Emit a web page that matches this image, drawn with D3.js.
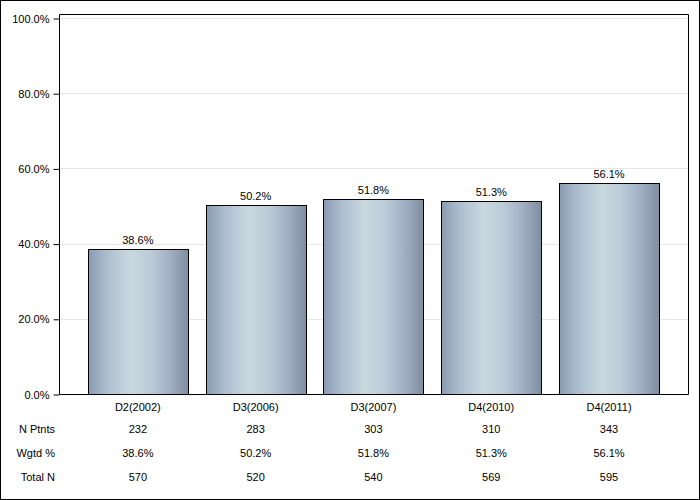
<!DOCTYPE html>
<html><head><meta charset="utf-8">
<script src="https://cdn.jsdelivr.net/npm/d3@7"></script>
<style>body{margin:0;background:#fff}svg{display:block}text{font-family:"Liberation Sans",Arial,sans-serif;font-size:11px;fill:#000}</style>
</head><body>
<script>
const categories = ["D2(2002)","D3(2006)","D3(2007)","D4(2010)","D4(2011)"];
const values = [38.6,50.2,51.8,51.3,56.1];
const nPtnts = [232,283,303,310,343];
const wgtd = ["38.6%","50.2%","51.8%","51.3%","56.1%"];
const totalN = [570,520,540,569,595];
const yTicks = [0,20,40,60,80,100];
const rowLabels = ["N Ptnts","Wgtd %","Total N"];

const W=700,H=500;
const L=59,R=688,T=14,B=394;
const svg=d3.select("body").append("svg").attr("width",W).attr("height",H);
svg.append("rect").attr("x",0.5).attr("y",0.5).attr("width",W-1).attr("height",H-1).attr("fill","#fff").attr("stroke","#000");

const defs=svg.append("defs");
const g=defs.append("linearGradient").attr("id","bg").attr("x1","0").attr("x2","1").attr("y1","0").attr("y2","0");
[["0%","#8a9bb0"],["18%","#adbdd0"],["42%","#c8d9df"],["62%","#bccbd8"],["80%","#a2b2c5"],["100%","#7f8e9f"]].forEach(s=>g.append("stop").attr("offset",s[0]).attr("stop-color",s[1]));

const x=d3.scaleBand().domain(categories).range([L+20,R-20]).paddingInner(0.15).paddingOuter(0.075);
const y=d3.scaleLinear().domain([0,100]).range([B,18]);

// gridlines
svg.append("g").selectAll("line").data(yTicks.filter(d=>d>0)).join("line")
  .attr("x1",L).attr("x2",R).attr("y1",d=>Math.round(y(d))+0.5).attr("y2",d=>Math.round(y(d))+0.5)
  .attr("stroke","#e6e6e6");

// bars
svg.append("g").selectAll("rect").data(values).join("rect")
  .attr("x",(d,i)=>Math.round(x(categories[i]))+0.5)
  .attr("y",d=>Math.round(y(d))+0.5)
  .attr("width",100)
  .attr("height",d=>B-Math.round(y(d)))
  .attr("fill","url(#bg)").attr("stroke","#000");

// value labels
svg.append("g").selectAll("text").data(values).join("text")
  .attr("x",(d,i)=>x(categories[i])+50).attr("y",d=>y(d)-5)
  .attr("text-anchor","middle").text(d=>d.toFixed(1)+"%");

// frame
svg.append("path").attr("d",`M${L+0.5},${B+0.5}V${T+0.5}H${R+0.5}V${B+0.5}Z`).attr("fill","none").attr("stroke","#000");

// y axis
const ya=svg.append("g").attr("transform",`translate(${L+0.5},0.5)`)
  .call(d3.axisLeft(y).tickValues(yTicks).tickSize(6).tickPadding(4).tickFormat(d=>d.toFixed(1)+"%"));
ya.select(".domain").remove();
ya.selectAll("text").style("font-size","11px").style("font-family","Liberation Sans, Arial, sans-serif");
ya.selectAll("line").attr("stroke","#000");

// category labels
svg.append("g").selectAll("text").data(categories).join("text")
  .attr("x",d=>x(d)+50).attr("y",411).attr("text-anchor","middle").text(d=>d);

// table rows
const rows=[nPtnts,wgtd,totalN];
const rowY=[433,457,481];
rows.forEach((r,k)=>{
  svg.append("text").attr("x",55).attr("y",rowY[k]).attr("text-anchor","end").text(rowLabels[k]);
  svg.append("g").selectAll("text").data(r).join("text")
    .attr("x",(d,i)=>x(categories[i])+50).attr("y",rowY[k]).attr("text-anchor","middle").text(d=>d);
});
</script>
</body></html>
